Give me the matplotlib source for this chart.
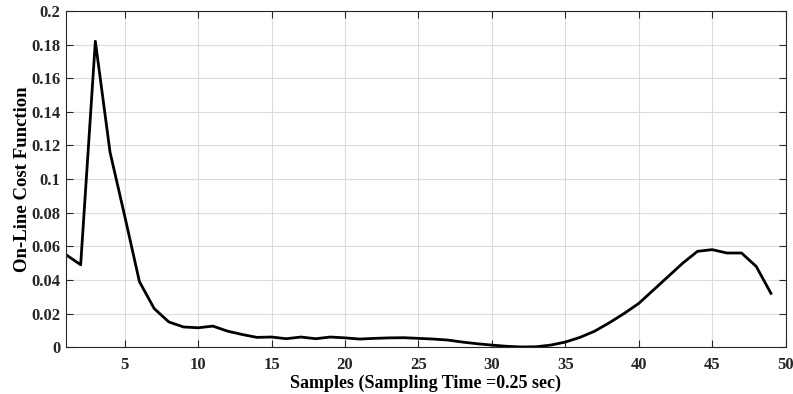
import matplotlib
matplotlib.use("Agg")
import matplotlib.pyplot as plt

samples = list(range(1, 50))
cost = [0.055, 0.049, 0.182, 0.116, 0.078, 0.039, 0.023, 0.015, 0.012, 0.0115,
        0.0125, 0.0095, 0.0075, 0.0058, 0.006, 0.005, 0.006, 0.005, 0.006, 0.0055,
        0.0048, 0.0052, 0.0055, 0.0056, 0.0052, 0.0048, 0.0042, 0.003, 0.002, 0.0012,
        0.0005, 0.0001, 0.0002, 0.0012, 0.003, 0.0058, 0.0095, 0.0145, 0.020, 0.026,
        0.034, 0.042, 0.050, 0.057, 0.058, 0.056, 0.056, 0.048, 0.032]
xticks = [5, 10, 15, 20, 25, 30, 35, 40, 45, 50]
yticks = [0, 0.02, 0.04, 0.06, 0.08, 0.1, 0.12, 0.14, 0.16, 0.18, 0.2]
ytick_labels = ["0", "0.02", "0.04", "0.06", "0.08", "0.1", "0.12", "0.14", "0.16", "0.18", "0.2"]

plt.rcParams['font.family'] = ['Liberation Serif', 'DejaVu Serif']
plt.rcParams['font.weight'] = 'bold'

fig = plt.figure(figsize=(7.93, 3.94), dpi=100)
ax = fig.add_axes([0.0832, 0.119, 0.9075, 0.853])
ax.plot(samples, cost, color='black', lw=2.0)
ax.set_xlim(1, 50)
ax.set_ylim(0, 0.2)
ax.set_xticks(xticks)
ax.set_yticks(yticks)
ax.set_yticklabels(ytick_labels)
ax.grid(True, color='#dcdcdc', lw=0.8)
ax.set_axisbelow(True)
ax.tick_params(direction='in', top=True, right=True, length=5, width=0.8,
               labelsize=12, colors='#262626')
ax.tick_params(axis='x', pad=7)
ax.tick_params(axis='y', pad=4)
for lab in ax.get_xticklabels() + ax.get_yticklabels():
    lab.set_fontweight('bold')
for s in ax.spines.values():
    s.set_color('#262626')
    s.set_linewidth(0.8)
ax.set_xlabel('Samples (Sampling Time =0.25 sec)', fontsize=13, fontweight='bold', labelpad=1)
ax.set_ylabel('On-Line Cost Function', fontsize=13.5, fontweight='bold', labelpad=0)
fig.savefig('out.png', dpi=100)
